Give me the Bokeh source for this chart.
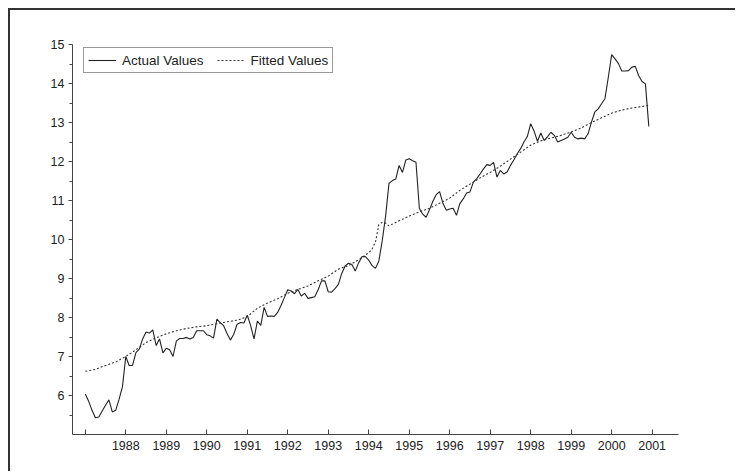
import numpy as np
from bokeh.plotting import figure
from bokeh.models import FixedTicker, Legend, LegendItem, Range1d
from bokeh.embed import file_html
from bokeh.resources import INLINE

# ---- data (monthly, Jan 1987 .. Dec 2000) ----
start_year = 1987
actual_values = [
    6.04, 5.85, 5.62, 5.43, 5.45, 5.60, 5.75, 5.89, 5.58, 5.62, 5.90, 6.22,   # 1987
    7.00, 6.77, 6.77, 7.10, 7.19, 7.45, 7.63, 7.60, 7.68, 7.28, 7.45, 7.09,   # 1988
    7.21, 7.17, 7.00, 7.40, 7.46, 7.46, 7.49, 7.45, 7.49, 7.66, 7.66, 7.66,   # 1989
    7.56, 7.53, 7.47, 7.96, 7.87, 7.79, 7.59, 7.42, 7.57, 7.83, 7.87, 7.86,   # 1990
    8.06, 7.79, 7.45, 7.91, 7.80, 8.26, 8.03, 8.04, 8.03, 8.13, 8.31, 8.51,   # 1991
    8.71, 8.68, 8.61, 8.72, 8.55, 8.62, 8.49, 8.51, 8.53, 8.71, 8.94, 8.94,   # 1992
    8.66, 8.65, 8.74, 8.85, 9.13, 9.32, 9.39, 9.36, 9.19, 9.40, 9.56, 9.56,   # 1993
    9.47, 9.33, 9.26, 9.45, 9.97, 10.60, 11.44, 11.51, 11.55, 11.90, 11.72, 12.04,  # 1994
    12.07, 12.02, 11.98, 10.80, 10.65, 10.57, 10.76, 10.98, 11.15, 11.23, 10.92, 10.75,  # 1995
    10.78, 10.80, 10.62, 10.92, 11.04, 11.19, 11.22, 11.47, 11.56, 11.68, 11.81, 11.92,  # 1996
    11.90, 11.98, 11.60, 11.77, 11.68, 11.73, 11.90, 12.04, 12.20, 12.33, 12.50, 12.64,  # 1997
    12.97, 12.78, 12.52, 12.73, 12.54, 12.64, 12.75, 12.67, 12.50, 12.54, 12.58, 12.62,  # 1998
    12.75, 12.62, 12.58, 12.60, 12.58, 12.71, 13.01, 13.27, 13.35, 13.48, 13.61, 14.16,  # 1999
    14.74, 14.63, 14.51, 14.32, 14.32, 14.33, 14.42, 14.44, 14.20, 14.05, 13.99, 12.90,  # 2000
]
actual_years = start_year + np.arange(len(actual_values)) / 12.0

fitted_years = [
    1987.00, 1987.25, 1987.50, 1987.75, 1988.00, 1988.25, 1988.50, 1988.75,
    1989.00, 1989.25, 1989.50, 1989.75, 1990.00, 1990.25, 1990.50, 1990.75,
    1991.00, 1991.25, 1991.50, 1991.75, 1992.00, 1992.25, 1992.50, 1992.75,
    1993.00, 1993.25, 1993.50, 1993.75, 1994.00, 1994.08, 1994.17, 1994.25,
    1994.33, 1994.42, 1994.50, 1994.75, 1995.00, 1995.25, 1995.50, 1995.75,
    1996.00, 1996.25, 1996.50, 1996.75, 1997.00, 1997.25, 1997.50, 1997.75,
    1998.00, 1998.25, 1998.50, 1998.75, 1999.00, 1999.25, 1999.50, 1999.75,
    2000.00, 2000.25, 2000.50, 2000.75, 2000.92,
]
fitted_values = [
    6.62, 6.67, 6.77, 6.86, 7.00, 7.17, 7.36, 7.48,
    7.58, 7.66, 7.72, 7.76, 7.79, 7.84, 7.89, 7.93,
    8.02, 8.24, 8.37, 8.48, 8.62, 8.72, 8.81, 8.94,
    9.06, 9.24, 9.33, 9.48, 9.66, 9.75, 9.95, 10.38,
    10.44, 10.42, 10.35, 10.48, 10.60, 10.71, 10.80, 10.93,
    11.06, 11.26, 11.42, 11.58, 11.72, 11.88, 12.06, 12.24,
    12.42, 12.53, 12.60, 12.67, 12.76, 12.86, 13.00, 13.12,
    13.24, 13.32, 13.37, 13.41, 13.44,
]

x_ticks = list(range(1987, 2002))
x_unlabeled = [1987]
y_ticks = list(range(6, 16))
y_minor_ticks = [5.5 + i for i in range(10)]

FONT = "Liberation Sans"
INK = "#222222"

p = figure(
    width=727, height=463,
    x_range=Range1d(1986.684, 2001.65),
    y_range=Range1d(5, 15),
    output_backend="svg", toolbar_location=None,
    min_border_left=62, min_border_right=59,
    min_border_top=34, min_border_bottom=39,
)
p.styles = {
    "margin-left": "8px", "margin-top": "8px",
    "border-top": "2px solid #333333", "border-left": "2px solid #333333",
}
p.outline_line_color = None
p.xgrid.visible = False
p.ygrid.visible = False
p.background_fill_color = "white"
p.border_fill_color = "white"

r_act = p.line(actual_years, actual_values, line_color=INK, line_width=1.1)
r_fit = p.line(fitted_years, fitted_values, line_color="#333333", line_width=1.1,
               line_dash="2 2")

# x axis
xa = p.xaxis[0]
xa.ticker = FixedTicker(ticks=x_ticks, minor_ticks=[])
xa.major_label_overrides = {t: "" for t in x_unlabeled}
xa.major_tick_in = 5
xa.major_tick_out = 0
xa.major_label_standoff = 6
# y axis
ya = p.yaxis[0]
ya.ticker = FixedTicker(ticks=y_ticks, minor_ticks=y_minor_ticks)
ya.major_tick_in = 0
ya.major_tick_out = 4
ya.minor_tick_in = 0
ya.minor_tick_out = 3
ya.major_label_standoff = 4
for ax in (xa, ya):
    ax.axis_line_color = "#444444"
    ax.axis_line_width = 1
    ax.major_tick_line_color = "#444444"
    ax.major_label_text_font = FONT
    ax.major_label_text_font_size = "12.5px"
    ax.major_label_text_color = INK
xa.minor_tick_line_color = None
ya.minor_tick_line_color = "#444444"

legend = Legend(
    items=[LegendItem(label="Actual Values", renderers=[r_act]),
           LegendItem(label="Fitted Values", renderers=[r_fit])],
    orientation="horizontal",
    location=(11, 361),
    margin=0,
    padding=4,
    spacing=13,
    label_standoff=6,
    glyph_width=28,
    glyph_height=16,
    label_height=16,
    label_text_font=FONT,
    label_text_font_size="13.5px",
    label_text_color=INK,
    border_line_color="#333333",
    border_line_width=1,
    background_fill_color="white",
    background_fill_alpha=1.0,
)
p.add_layout(legend)

open("out.html", "w").write(file_html(p, INLINE))
